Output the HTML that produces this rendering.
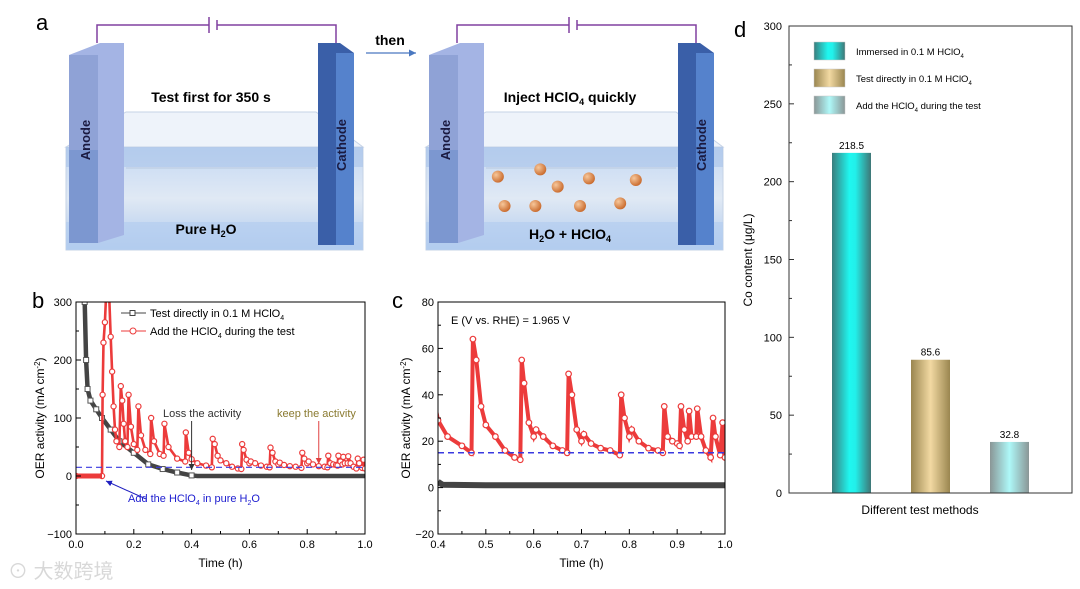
<!DOCTYPE html>
<html><head><meta charset="utf-8">
<style>
html,body{margin:0;padding:0;background:#fff;}
svg{display:block;font-family:"Liberation Sans","Noto Sans CJK SC",sans-serif;}
</style></head>
<body>
<svg id="fig" width="1080" height="589" viewBox="0 0 1080 589" xmlns="http://www.w3.org/2000/svg">
<defs>
  <linearGradient id="g1" x1="0" x2="1" y1="0" y2="0"><stop offset="0" stop-color="#3a7d7d"/><stop offset="0.45" stop-color="#1ff7f0"/><stop offset="0.6" stop-color="#22f0ea"/><stop offset="1" stop-color="#3f7676"/></linearGradient>
  <linearGradient id="g2" x1="0" x2="1" y1="0" y2="0"><stop offset="0" stop-color="#9a8650"/><stop offset="0.5" stop-color="#f2d9a2"/><stop offset="1" stop-color="#9a8650"/></linearGradient>
  <linearGradient id="g3" x1="0" x2="1" y1="0" y2="0"><stop offset="0" stop-color="#8a9696"/><stop offset="0.5" stop-color="#aef8f8"/><stop offset="1" stop-color="#8a9696"/></linearGradient>
  <linearGradient id="water" x1="0" x2="0" y1="0" y2="1"><stop offset="0" stop-color="#c4d8f3"/><stop offset="0.5" stop-color="#e0e9f4"/><stop offset="1" stop-color="#b0caee"/></linearGradient>
  <radialGradient id="ball" cx="0.35" cy="0.35" r="0.7"><stop offset="0" stop-color="#f7c79a"/><stop offset="1" stop-color="#c8682a"/></radialGradient>
  <clipPath id="clipB"><rect x="76" y="302" width="289" height="232"/></clipPath>
  <clipPath id="clipC"><rect x="438" y="302" width="287" height="232"/></clipPath>
  <marker id="arrB" markerWidth="8" markerHeight="8" refX="6" refY="3" orient="auto"><path d="M0,0 L6,3 L0,6 z" fill="#2020c0"/></marker>
  <marker id="arrR" markerWidth="8" markerHeight="8" refX="6" refY="3" orient="auto"><path d="M0,0 L6,3 L0,6 z" fill="#e04040"/></marker>
  <marker id="arrK" markerWidth="8" markerHeight="8" refX="6" refY="3" orient="auto"><path d="M0,0 L6,3 L0,6 z" fill="#333"/></marker>
  <marker id="arrT" markerWidth="8" markerHeight="8" refX="6" refY="3" orient="auto"><path d="M0,0 L6,3 L0,6 z" fill="#4a78c0"/></marker>
</defs>

<text x="36" y="30" font-size="22">a</text>
<g id="tanks"></g>
<text x="390" y="45" font-size="14" font-weight="bold" text-anchor="middle">then</text>
<line x1="366" y1="53" x2="416" y2="53" stroke="#4a78c0" stroke-width="1.2" marker-end="url(#arrT)"/>

<text x="32" y="308" font-size="22">b</text>
<g id="pb"></g>
<text x="392" y="308" font-size="22">c</text>
<g id="pc"></g>
<text x="734" y="37" font-size="22">d</text>
<g id="pd"></g>

<text x="8" y="578" font-size="20" fill="#d8d8d8">⊙ 大数跨境</text>
</svg>
<script>
const redTimes = [0,0.09,0.092,0.095,0.1,0.105,0.11,0.115,0.12,0.125,0.13,0.135,0.14,0.15,0.155,0.16,0.165,0.17,0.178,0.182,0.19,0.2,0.212,0.216,0.225,0.24,0.257,0.26,0.27,0.29,0.303,0.306,0.32,0.35,0.378,0.38,0.39,
 0.4,0.42,0.45,0.47,0.473,0.48,0.49,0.5,0.52,0.54,0.56,0.572,0.575,0.58,0.59,0.6,0.605,0.62,0.64,0.66,0.67,0.673,0.68,0.69,0.7,0.705,0.72,0.74,0.76,0.78,0.783,0.79,0.8,0.805,0.82,0.84,0.86,0.87,0.873,0.88,0.89,0.9,0.905,0.908,0.915,0.922,0.925,0.93,0.94,0.942,0.95,0.96,0.97,0.975,0.98,0.99,0.995,1.0];
const redValues = [0,0,140,230,265,320,330,310,240,180,120,80,60,50,155,130,90,60,50,140,85,55,45,120,70,45,38,100,60,38,35,90,50,30,25,75,40,
 29,22,18,15,64,55,35,27,22,16,13,12,55,45,28,22,25,22,18,16,15,49,40,25,20,23,19,17,16,14,40,30,22,25,20,17,16,15,35,22,20,19,18,35,25,20,33,22,22,34,22,16,13,30,22,14,28,13];
const blackTimes = [0.0,0.02,0.03,0.035,0.04,0.05,0.07,0.09,0.12,0.15,0.2,0.25,0.3,0.35,0.4,0.42,0.6,0.8,1.0];
const blackValues = [330,330,300,200,150,130,115,100,80,60,40,20,12,6,1,0,0,0,0];
const blackCTimes = [0.4,0.405,0.41,0.5,0.7,0.9,1.0];
const blackCValues = [2.5,1.8,1.2,1.0,1.0,1.0,1.0];
const refLevel = 15;
const bTicksY = [-100,0,100,200,300];
const bTicksX = [0.0,0.2,0.4,0.6,0.8,1.0];
const cTicksY = [-20,0,20,40,60,80];
const cTicksX = [0.4,0.5,0.6,0.7,0.8,0.9,1.0];
const dCategories = ["Immersed in 0.1 M HClO4","Test directly in 0.1 M HClO4","Add the HClO4 during the test"];
const dValues = [218.5,85.6,32.8];
const dLabels = ["218.5","85.6","32.8"];
const dTicks = [0,50,100,150,200,250,300];

const NS="http://www.w3.org/2000/svg";
function mk(tag,attrs,parent,text){const e=document.createElementNS(NS,tag);for(const k in attrs)e.setAttribute(k,attrs[k]);if(text!==undefined)e.textContent=text;parent.appendChild(e);return e;}

const T=document.getElementById('tanks');
function tank(dx,balls){
  const g=mk('g',{},T);
  
  
  mk('polygon',{points:`${126+dx},112 ${316+dx},112 ${363+dx},147 ${66+dx},147`,fill:'#eef3fa',stroke:'#c6d3e6'},g);
  mk('rect',{x:66+dx,y:147,width:297,height:103,fill:'url(#water)',stroke:'#c6d3e6'},g);
  mk('rect',{x:66+dx,y:147,width:297,height:20,fill:'#a8c3ea',opacity:0.6},g);
  mk('line',{x1:126+dx,y1:168,x2:316+dx,y2:168,stroke:'#b8c8de'},g);
  mk('rect',{x:66+dx,y:222,width:297,height:28,fill:'#b4cdf0',opacity:0.7},g);
  mk('polygon',{points:`${69+dx},55 ${100+dx},43 ${124+dx},43 ${124+dx},235 ${98+dx},243 ${69+dx},243`,fill:'#a4b4e4'},g);
  mk('polygon',{points:`${69+dx},55 ${98+dx},55 ${98+dx},243 ${69+dx},243`,fill:'#8fa2d6'},g);
  mk('rect',{x:69+dx,y:150,width:29,height:93,fill:'#7090cc',opacity:0.6},g);
  mk('polygon',{points:`${318+dx},43 ${340+dx},43 ${354+dx},53 ${354+dx},245 ${318+dx},245`,fill:'#3a5fa8'},g);
  mk('rect',{x:336+dx,y:53,width:18,height:192,fill:'#5582cc'},g);
  mk('polyline',{points:`${97+dx},43 ${97+dx},25 ${209+dx},25`,fill:'none',stroke:'#8040a0','stroke-width':1.5},g);
  mk('polyline',{points:`${217+dx},25 ${336+dx},25 ${336+dx},43`,fill:'none',stroke:'#8040a0','stroke-width':1.5},g);
  mk('line',{x1:209+dx,y1:17,x2:209+dx,y2:33,stroke:'#8040a0','stroke-width':1.5},g);
  mk('line',{x1:217+dx,y1:20,x2:217+dx,y2:30,stroke:'#8040a0','stroke-width':1.5},g);
  const a=mk('text',{x:90+dx,y:140,'font-size':13,'font-weight':'bold',fill:'#1a1a40','text-anchor':'middle',transform:`rotate(-90 ${90+dx} 140)`},g,'Anode');
  
  
  const c=mk('text',{x:346+dx,y:145,'font-size':13,'font-weight':'bold',fill:'#1a1a40','text-anchor':'middle',transform:`rotate(-90 ${346+dx} 145)`},g,'Cathode');
  
  
  balls.forEach(b=>{const e=mk('circle',{cx:30+b[0]/2.24,cy:b[1]/3,r:6,fill:'url(#ball)'},g);
    
    });
}
tank(0,[]);
tank(360,[[1048,530],[1143,508],[1182,560],[1252,535],[1357,540],[1063,618],[1132,618],[1232,618],[1322,610]]);
function ttext(x,y,str,name){const t=mk('text',{x:x,y:y,'font-size':14,'font-weight':'bold','text-anchor':'middle'},T);t.innerHTML=str;
  
  }
ttext(211,102,'Test first for 350 s','step1-label');
ttext(206,234,'Pure H<tspan font-size="9" dy="3">2</tspan><tspan dy="-3">O</tspan>','pure-water-label');
ttext(570,102,'Inject HClO<tspan font-size="9" dy="3">4</tspan><tspan dy="-3"> quickly</tspan>','step2-label');
ttext(570,239,'H<tspan font-size="9" dy="3">2</tspan><tspan dy="-3">O + HClO</tspan><tspan font-size="9" dy="3">4</tspan>','mixture-label');

function axes(g,L,R,Tp,B,xs,ys,xt,yt,xfmt,yfmt,xminor,yminor){
  const fr=mk('rect',{x:L,y:Tp,width:R-L,height:B-Tp,fill:'none',stroke:'#000','stroke-width':1},g);
  
  
  xt.forEach(v=>{const x=xs(v);mk('line',{x1:x,y1:B,x2:x,y2:B-5,stroke:'#000'},g);
    const t=mk('text',{x:x,y:B+14,'font-size':11,'text-anchor':'middle'},g,xfmt(v));
    
    });
  xminor.forEach(v=>{const x=xs(v);mk('line',{x1:x,y1:B,x2:x,y2:B-3,stroke:'#000'},g);});
  yt.forEach(v=>{const y=ys(v);mk('line',{x1:L,y1:y,x2:L+5,y2:y,stroke:'#000'},g);
    const t=mk('text',{x:L-4,y:y+4,'font-size':11,'text-anchor':'end'},g,yfmt(v));
    
    });
  yminor.forEach(v=>{const y=ys(v);mk('line',{x1:L,y1:y,x2:L+3,y2:y,stroke:'#000'},g);});
}
function path(ts,vs,xs,ys){return ts.map((t,i)=>(i?'L':'M')+xs(t).toFixed(1)+','+ys(vs[i]).toFixed(1)).join(' ');}
const mid=a=>a.slice(0,-1).map((v,i)=>(v+a[i+1])/2);

(function(){
  const g=document.getElementById('pb');
  const L=76,R=365,Tp=302,B=534;
  const xs=t=>L+t*(R-L), ys=v=>B-(v+100)*(B-Tp)/400;
  const cg=mk('g',{'clip-path':'url(#clipB)'},g);
  const bl=mk('path',{d:path(blackTimes,blackValues,xs,ys),fill:'none',stroke:'#444','stroke-width':4.5},cg);
  
  
  blackTimes.forEach((t,i)=>{if(t<0.42){const m=mk('rect',{x:xs(t)-2.5,y:ys(blackValues[i])-2.5,width:5,height:5,fill:'#fff',stroke:'#555'},cg);
    
    }});
  const rl=mk('path',{d:path(redTimes,redValues,xs,ys),fill:'none',stroke:'#ec3b3b','stroke-width':2.6},cg);
  
  
  redTimes.forEach((t,i)=>{const m=mk('circle',{cx:xs(t),cy:ys(redValues[i]),r:2.6,fill:'#fff',stroke:'#ec3b3b','stroke-width':1.2},cg);
    
    });
  mk('line',{x1:L,y1:ys(0),x2:xs(0.09),y2:ys(0),stroke:'#ec3b3b','stroke-width':5},cg);
  const dl=mk('line',{x1:L,y1:ys(refLevel),x2:R,y2:ys(refLevel),stroke:'#3a3ae0','stroke-width':1.2,'stroke-dasharray':'6,4'},cg);
  
  
  axes(g,L,R,Tp,B,xs,ys,bTicksX,bTicksY,v=>v.toFixed(1),v=>v<0?'−'+(-v):''+v,mid(bTicksX),mid(bTicksY));
  const xl=mk('text',{x:(L+R)/2,y:567,'font-size':12,'text-anchor':'middle'},g,'Time (h)');
  
  
  const yl=mk('text',{x:0,y:0,'font-size':12,'text-anchor':'middle',transform:`translate(44,${(Tp+B)/2}) rotate(-90)`},g);
  yl.innerHTML='OER activity (mA cm<tspan font-size="8" dy="-4">-2</tspan><tspan dy="4">)</tspan>';
  
  
  const lg=mk('g',{},g);
  
  
  mk('line',{x1:121,y1:313,x2:146,y2:313,stroke:'#444'},lg);
  mk('rect',{x:130,y:310.5,width:5,height:5,fill:'#fff',stroke:'#444'},lg);
  const t1=mk('text',{x:150,y:317,'font-size':11},lg);t1.innerHTML='Test directly in 0.1 M HClO<tspan font-size="7" dy="3">4</tspan>';
  
  
  mk('line',{x1:121,y1:331,x2:146,y2:331,stroke:'#ec3b3b'},lg);
  mk('circle',{cx:133,cy:331,r:3,fill:'#fff',stroke:'#ec3b3b'},lg);
  const t2=mk('text',{x:150,y:335,'font-size':11},lg);t2.innerHTML='Add the HClO<tspan font-size="7" dy="3">4</tspan><tspan dy="-3"> during the test</tspan>';
  
  
  const a1=mk('text',{x:163,y:417,'font-size':11,fill:'#333'},g,'Loss the activity');
  
  
  mk('line',{x1:xs(0.4),y1:421,x2:xs(0.4),y2:470,stroke:'#333','stroke-width':1,'marker-end':'url(#arrK)'},g);
  const a2=mk('text',{x:277,y:417,'font-size':11,fill:'#8a7a30'},g,'keep the activity');
  
  
  mk('line',{x1:xs(0.84),y1:421,x2:xs(0.84),y2:464,stroke:'#e04040','stroke-width':1,'marker-end':'url(#arrR)'},g);
  mk('line',{x1:146,y1:499,x2:106,y2:481,stroke:'#2020c0','stroke-width':1,'marker-end':'url(#arrB)'},g);
  const a3=mk('text',{x:128,y:502,'font-size':11,fill:'#2020d0'},g);
  a3.innerHTML='Add the HClO<tspan font-size="7" dy="3">4</tspan><tspan dy="-3"> in pure H</tspan><tspan font-size="7" dy="3">2</tspan><tspan dy="-3">O</tspan>';
  
  
})();

(function(){
  const g=document.getElementById('pc');
  const L=438,R=725,Tp=302,B=534;
  const xs=t=>L+(t-0.4)/0.6*(R-L), ys=v=>B-(v+20)*(B-Tp)/100;
  const cg=mk('g',{'clip-path':'url(#clipC)'},g);
  const bl=mk('path',{d:path(blackCTimes,blackCValues,xs,ys),fill:'none',stroke:'#444','stroke-width':6},cg);
  
  
  const rl=mk('path',{d:path(redTimes,redValues,xs,ys),fill:'none',stroke:'#ec3b3b','stroke-width':4},cg);
  
  
  redTimes.forEach((t,i)=>{if(t>=0.4){const m=mk('circle',{cx:xs(t),cy:ys(redValues[i]),r:2.8,fill:'#fff',stroke:'#ec3b3b','stroke-width':1.2},cg);
    
    }});
  const dl=mk('line',{x1:L,y1:ys(refLevel),x2:R,y2:ys(refLevel),stroke:'#3a3ae0','stroke-width':1.5,'stroke-dasharray':'6,4'},cg);
  
  
  axes(g,L,R,Tp,B,xs,ys,cTicksX,cTicksY,v=>v.toFixed(1),v=>v<0?'−'+(-v):''+v,mid(cTicksX),mid(cTicksY));
  const xl=mk('text',{x:(L+R)/2,y:567,'font-size':12,'text-anchor':'middle'},g,'Time (h)');
  
  
  const yl=mk('text',{x:0,y:0,'font-size':12,'text-anchor':'middle',transform:`translate(410,${(Tp+B)/2}) rotate(-90)`},g);
  yl.innerHTML='OER activity (mA cm<tspan font-size="8" dy="-4">-2</tspan><tspan dy="4">)</tspan>';
  
  
  const e=mk('text',{x:451,y:324,'font-size':11},g,'E (V vs. RHE) = 1.965 V');
  
  
})();

(function(){
  const g=document.getElementById('pd');
  const L=789,R=1072,Tp=26,B=493;
  const ys=v=>B-v*(B-Tp)/300;
  const fills=['url(#g1)','url(#g2)','url(#g3)'];
  const bx=[832,911,990], bw=39;
  dValues.forEach((v,i)=>{
    const r=mk('rect',{x:bx[i],y:ys(v),width:bw,height:B-ys(v),fill:fills[i]},g);
    
    
    const t=mk('text',{x:bx[i]+bw/2,y:ys(v)-4,'font-size':10,'text-anchor':'middle'},g,dLabels[i]);
    
    
  });
  const fr=mk('rect',{x:L,y:Tp,width:R-L,height:B-Tp,fill:'none',stroke:'#333'},g);
  
  
  dTicks.forEach(v=>{const y=ys(v);mk('line',{x1:L,y1:y,x2:L+5,y2:y,stroke:'#333'},g);
    const t=mk('text',{x:L-7,y:y+4,'font-size':11,'text-anchor':'end'},g,''+v);
    
    });
  mid(dTicks).forEach(v=>{const y=ys(v);mk('line',{x1:L,y1:y,x2:L+3,y2:y,stroke:'#333'},g);});
  const xl=mk('text',{x:920,y:514,'font-size':12,'text-anchor':'middle'},g,'Different test methods');
  
  
  const yl=mk('text',{x:0,y:0,'font-size':12,'text-anchor':'middle',transform:`translate(752,260) rotate(-90)`},g,'Co content  (μg/L)');
  
  
  const lg=mk('g',{},g);
  
  
  dCategories.forEach((c,i)=>{
    const y=42+i*27;
    mk('rect',{x:814,y:y,width:31,height:18,fill:fills[i],stroke:'#c8c8c8','stroke-width':0.5},lg);
    const t=mk('text',{x:856,y:y+13,'font-size':9.5},lg);
    const parts=c.split('HClO4');
    t.innerHTML=parts[0]+'HClO<tspan font-size="6" dy="3">4</tspan>'+(parts[1]?'<tspan dy="-3">'+parts[1]+'</tspan>':'');
    
    
  });
})();
</script>
</body></html>
